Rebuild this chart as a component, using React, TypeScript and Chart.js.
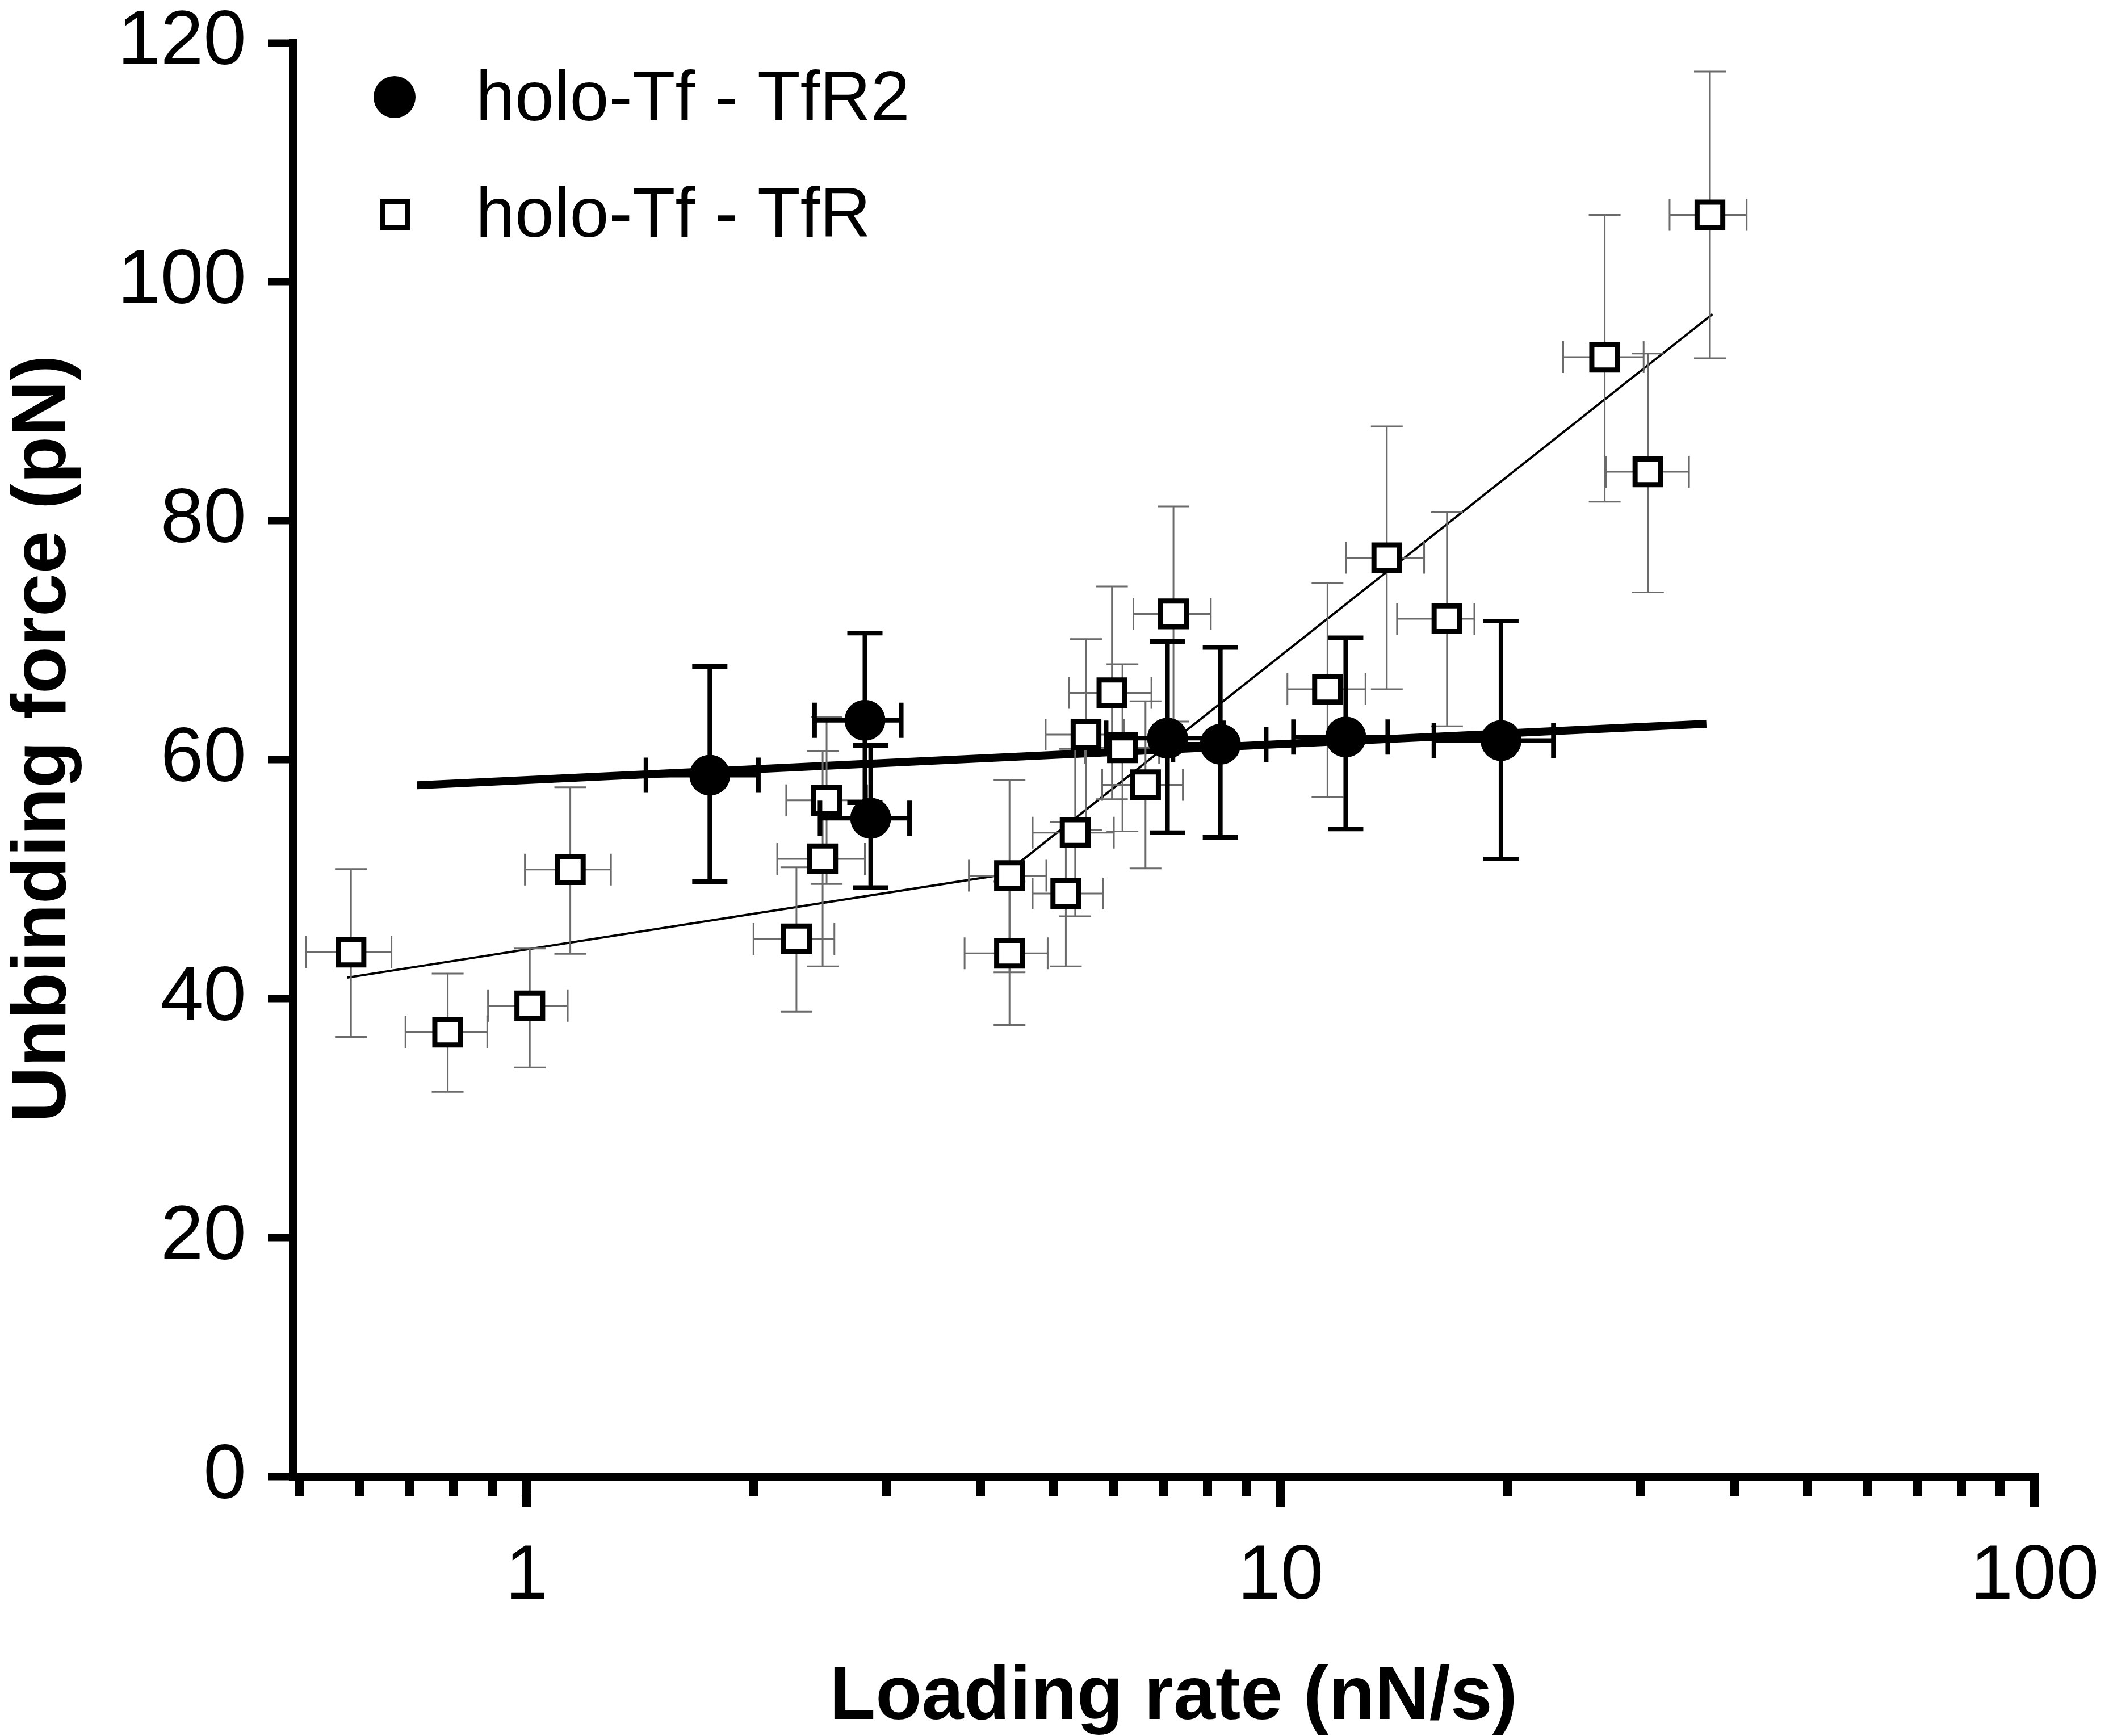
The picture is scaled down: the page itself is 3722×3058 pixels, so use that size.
import React, { useEffect, useRef } from 'react';
import { Chart, registerables } from 'chart.js';

Chart.register(...registerables);

// ---------- data ----------
const TFR2_LABEL = 'holo-Tf - TfR2';
const TFR_LABEL = 'holo-Tf - TfR';

const TFR2_X = [1.75, 2.81, 2.86, 7.08, 8.32, 12.2, 19.6];
const TFR2_Y = [58.7, 63.3, 55.1, 61.8, 61.3, 61.9, 61.6];
const TFR2_X_LOW = [1.44, 2.41, 2.45, 5.87, 7.2, 10.4, 15.97];
const TFR2_X_HIGH = [2.03, 3.14, 3.22, 8.4, 9.57, 13.87, 23.0];
const TFR2_Y_LOW = [49.8, 56.4, 49.3, 53.9, 53.5, 54.2, 51.7];
const TFR2_Y_HIGH = [67.8, 70.6, 61.2, 69.9, 69.4, 70.2, 71.6];

const TFR_X = [0.585, 0.786, 1.01, 1.143, 2.28, 2.47, 2.5, 4.37, 4.37, 5.19, 5.34, 5.52, 5.975, 6.17, 6.62, 7.21, 11.54, 13.83, 16.62, 26.9, 30.7, 37.1];
const TFR_Y = [43.9, 37.2, 39.4, 50.8, 45.0, 51.7, 56.6, 50.3, 43.8, 48.8, 53.9, 62.1, 65.6, 61.0, 57.9, 72.2, 65.9, 76.9, 71.8, 93.7, 84.1, 105.6];
const TFR_X_LOW = [0.51, 0.691, 0.889, 0.995, 2.0, 2.15, 2.21, 3.86, 3.81, 4.69, 4.69, 4.88, 5.24, 5.5, 5.8, 6.38, 10.21, 12.21, 14.27, 23.7, 27.0, 32.8];
const TFR_X_HIGH = [0.662, 0.887, 1.134, 1.294, 2.56, 2.81, 2.83, 4.89, 4.91, 5.82, 6.01, 6.2, 6.74, 6.9, 7.42, 8.08, 12.96, 15.5, 18.07, 30.3, 34.8, 41.5];
const TFR_Y_LOW = [36.8, 32.2, 34.25, 43.75, 38.9, 42.7, 49.6, 42.2, 37.8, 42.7, 46.9, 54.1, 56.7, 54.0, 50.9, 63.2, 56.9, 65.9, 62.8, 81.6, 74.0, 93.6];
const TFR_Y_HIGH = [50.85, 42.1, 44.2, 57.7, 51.0, 60.7, 63.6, 58.3, 49.8, 54.8, 60.9, 70.1, 74.5, 68.0, 64.9, 81.2, 74.8, 87.9, 80.7, 105.6, 94.0, 117.6];

const TFR_FIT_X = [0.578, 4.3, 37.4];
const TFR_FIT_Y = [41.76, 50.4, 97.3];
const TFR2_FIT_X = [0.716, 36.7];
const TFR2_FIT_Y = [57.86, 63.0];

const X_MAJOR_TICKS = [1, 10, 100];
const X_ALL_TICKS = [0.5, 0.6, 0.7, 0.8, 0.9, 1, 2, 3, 4, 5, 6, 7, 8, 9, 10, 20, 30, 40, 50, 60, 70, 80, 90, 100];
const Y_TICKS = [0, 20, 40, 60, 80, 100, 120];

const X_TITLE = 'Loading rate (nN/s)';
const Y_TITLE = 'Unbinding force (pN)';

// ---------- helpers ----------
const FONT = "'Liberation Sans', Arial, Helvetica, sans-serif";

const toPts = (xs: number[], ys: number[]) => xs.map((x, i) => ({ x, y: ys[i] }));

const ERROR_SETS = [
  { datasetIndex: 0, x: TFR2_X, y: TFR2_Y, xLow: TFR2_X_LOW, xHigh: TFR2_X_HIGH, yLow: TFR2_Y_LOW, yHigh: TFR2_Y_HIGH, color: '#000000', width: 8, cap: 31 },
  { datasetIndex: 1, x: TFR_X, y: TFR_Y, xLow: TFR_X_LOW, xHigh: TFR_X_HIGH, yLow: TFR_Y_LOW, yHigh: TFR_Y_HIGH, color: '#6b6b6b', width: 3, cap: 28 },
];

const errorBarPlugin = {
  id: 'errorBars',
  beforeDatasetDraw(chart: any, args: any) {
    const set = ERROR_SETS.find((s) => s.datasetIndex === args.index);
    if (!set) return;
    const xs = chart.scales.x;
    const ys = chart.scales.y;
    const ctx = chart.ctx;
    ctx.save();
    ctx.strokeStyle = set.color;
    ctx.lineWidth = set.width;
    ctx.lineCap = 'butt';
    set.x.forEach((xv: number, i: number) => {
      const px = xs.getPixelForValue(xv);
      const py = ys.getPixelForValue(set.y[i]);
      const yl = ys.getPixelForValue(set.yLow[i]);
      const yh = ys.getPixelForValue(set.yHigh[i]);
      const xl = xs.getPixelForValue(set.xLow[i]);
      const xh = xs.getPixelForValue(set.xHigh[i]);
      ctx.beginPath();
      ctx.moveTo(px, yl);
      ctx.lineTo(px, yh);
      ctx.moveTo(px - set.cap, yl);
      ctx.lineTo(px + set.cap, yl);
      ctx.moveTo(px - set.cap, yh);
      ctx.lineTo(px + set.cap, yh);
      ctx.moveTo(xl, py);
      ctx.lineTo(xh, py);
      ctx.moveTo(xl, py - set.cap);
      ctx.lineTo(xl, py + set.cap);
      ctx.moveTo(xh, py - set.cap);
      ctx.lineTo(xh, py + set.cap);
      ctx.stroke();
    });
    ctx.restore();
  },
};

const majorTickPlugin = {
  id: 'majorTicks',
  afterDraw(chart: any) {
    const xs = chart.scales.x;
    const ctx = chart.ctx;
    ctx.save();
    ctx.strokeStyle = '#000';
    ctx.lineWidth = 16;
    ctx.lineCap = 'butt';
    X_MAJOR_TICKS.forEach((v) => {
      const px = xs.getPixelForValue(v);
      ctx.beginPath();
      ctx.moveTo(px, xs.top + 30);
      ctx.lineTo(px, xs.top + 54);
      ctx.stroke();
    });
    ctx.restore();
  },
};

const axisTitlePlugin = {
  id: 'axisTitles',
  afterDraw(chart: any) {
    const { ctx, chartArea } = chart;
    ctx.save();
    ctx.fillStyle = '#000';
    ctx.textAlign = 'center';
    ctx.textBaseline = 'alphabetic';
    // x title
    ctx.font = `bold 133px ${FONT}`;
    ctx.fillText(X_TITLE, (chartArea.left + chartArea.right) / 2 + 17, 3028);
    // y title
    ctx.font = `bold 136px ${FONT}`;
    ctx.translate(115, (chartArea.top + chartArea.bottom) / 2 - 37);
    ctx.rotate(-Math.PI / 2);
    ctx.fillText(Y_TITLE, 0, 0);
    ctx.restore();
  },
};

const legendPlugin = {
  id: 'insideLegend',
  afterDraw(chart: any) {
    const ctx = chart.ctx;
    const labels = chart.data.datasets.slice(0, 2).map((d: any) => d.label);
    ctx.save();
    ctx.fillStyle = '#000';
    ctx.beginPath();
    ctx.arc(695, 171, 37, 0, Math.PI * 2);
    ctx.fill();
    ctx.fillStyle = '#fff';
    ctx.strokeStyle = '#000';
    ctx.lineWidth = 9;
    ctx.fillRect(696 - 22.5, 378 - 22.5, 45, 45);
    ctx.strokeRect(696 - 22.5, 378 - 22.5, 45, 45);
    ctx.fillStyle = '#000';
    ctx.font = `124px ${FONT}`;
    ctx.textAlign = 'left';
    ctx.textBaseline = 'alphabetic';
    ctx.fillText(labels[0], 838, 212);
    ctx.fillText(labels[1], 838, 417);
    ctx.restore();
  },
};

export default function App() {
  const ref = useRef<HTMLCanvasElement | null>(null);

  useEffect(() => {
    const canvas = ref.current;
    if (!canvas) return;
    Chart.defaults.font.family = FONT;
    Chart.defaults.color = '#000';

    const chart = new Chart(canvas, {
      type: 'scatter',
      data: {
        datasets: [
          {
            label: TFR2_LABEL,
            data: toPts(TFR2_X, TFR2_Y),
            pointStyle: 'circle',
            pointRadius: 36,
            pointBackgroundColor: '#000',
            pointBorderWidth: 0,
            borderColor: '#000',
            backgroundColor: '#000',
            showLine: false,
            order: 0,
          } as any,
          {
            label: TFR_LABEL,
            data: toPts(TFR_X, TFR_Y),
            pointStyle: 'rect',
            pointRadius: 32,
            pointBackgroundColor: '#fff',
            pointBorderColor: '#000',
            pointBorderWidth: 9,
            borderColor: '#000',
            backgroundColor: '#fff',
            showLine: false,
            order: 2,
          } as any,
          {
            label: 'TfR2 fit',
            data: toPts(TFR2_FIT_X, TFR2_FIT_Y),
            showLine: true,
            borderColor: '#000',
            borderWidth: 14,
            borderCapStyle: 'butt',
            pointRadius: 0,
            fill: false,
            tension: 0,
            order: 3,
          } as any,
          {
            label: 'TfR fit',
            data: toPts(TFR_FIT_X, TFR_FIT_Y),
            showLine: true,
            borderColor: '#000',
            borderWidth: 4,
            borderCapStyle: 'butt',
            pointRadius: 0,
            fill: false,
            tension: 0,
            order: 4,
          } as any,
        ],
      },
      options: {
        animation: false,
        responsive: false,
        devicePixelRatio: 1,
        events: [],
        layout: { padding: { top: 75.5, right: 138, left: 0, bottom: 0 } },
        plugins: {
          legend: { display: false },
          tooltip: { enabled: false },
          title: { display: false },
        },
        scales: {
          x: {
            type: 'logarithmic',
            position: 'bottom',
            min: 0.49,
            max: 100,
            afterBuildTicks: (scale: any) => {
              scale.ticks = X_ALL_TICKS.map((v) => ({ value: v }));
            },
            afterFit: (scale: any) => {
              scale.height = 457;
              scale.paddingLeft = 0;
              scale.paddingRight = 0;
            },
            ticks: {
              autoSkip: false,
              maxRotation: 0,
              minRotation: 0,
              padding: 62,
              color: '#000',
              font: { size: 136, family: FONT },
              callback: (value: any) => (X_MAJOR_TICKS.includes(Number(value)) ? String(value) : ''),
            },
            grid: {
              display: true,
              drawOnChartArea: false,
              drawTicks: true,
              tickLength: 34,
              tickWidth: 16,
              tickColor: '#000',
              lineWidth: 14,
              color: '#000',
            },
            border: { display: true, width: 14, color: '#000' },
            title: { display: false, text: X_TITLE },
          } as any,
          y: {
            type: 'linear',
            position: 'left',
            min: 0,
            max: 120,
            afterBuildTicks: (scale: any) => {
              scale.ticks = Y_TICKS.map((v) => ({ value: v }));
            },
            afterFit: (scale: any) => {
              scale.width = 516;
              scale.paddingTop = 0;
              scale.paddingBottom = 0;
            },
            ticks: {
              padding: 38,
              color: '#000',
              font: { size: 136, family: FONT },
            },
            grid: {
              display: true,
              drawOnChartArea: false,
              drawTicks: true,
              tickLength: 44,
              tickWidth: 13,
              tickColor: '#000',
              lineWidth: 14,
              color: '#000',
            },
            border: { display: true, width: 14, color: '#000' },
            title: { display: false, text: Y_TITLE },
          } as any,
        },
      } as any,
      plugins: [errorBarPlugin, majorTickPlugin, axisTitlePlugin, legendPlugin],
    });

    return () => chart.destroy();
  }, []);

  return (
    <div style={{ position: 'absolute', left: 0, top: 0, width: 3722, height: 3058, background: '#fff' }}>
      <canvas ref={ref} width={3722} height={3058} style={{ display: 'block', width: 3722, height: 3058 }} />
    </div>
  );
}
